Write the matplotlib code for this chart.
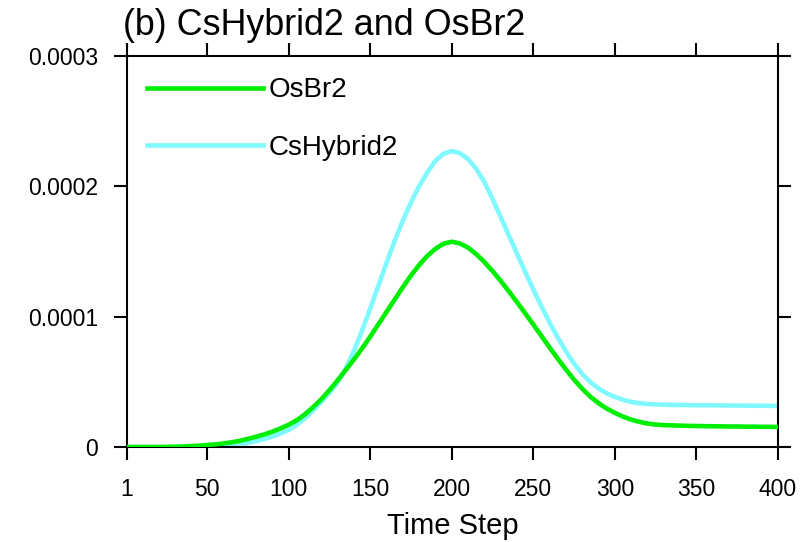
import numpy as np
import matplotlib
matplotlib.use("Agg")
import matplotlib.pyplot as plt

plt.rcParams['font.family'] = ['Liberation Sans', 'DejaVu Sans']

# time steps sampled every 5 steps
steps = [1] + list(range(5, 401, 5))

# RMSE values in units of 1e-5
osbr2 = [0, 0, 0, 0, 0, 0.01, 0.02, 0.04, 0.07, 0.1, 0.15, 0.2, 0.27, 0.36,
         0.47, 0.62, 0.78, 0.96, 1.17, 1.42, 1.7, 2.05, 2.5, 3.05, 3.65, 4.35,
         5.1, 5.9, 6.7, 7.55, 8.45, 9.4, 10.35, 11.3, 12.25, 13.15, 13.95,
         14.65, 15.2, 15.6, 15.75, 15.62, 15.3, 14.8, 14.2, 13.5, 12.75, 11.95,
         11.12, 10.27, 9.4, 8.52, 7.64, 6.78, 5.95, 5.17, 4.47, 3.86, 3.36,
         2.95, 2.62, 2.33, 2.1, 1.93, 1.8, 1.72, 1.68, 1.66, 1.64, 1.62, 1.61,
         1.6, 1.59, 1.58, 1.57, 1.57, 1.56, 1.56, 1.55, 1.55, 1.54]
cshybrid2 = [0, 0, 0, 0, 0, 0, 0, 0.005, 0.01, 0.02, 0.03, 0.05, 0.08, 0.13,
             0.2, 0.31, 0.45, 0.61, 0.8, 1.03, 1.3, 1.7, 2.2, 2.8, 3.45, 4.15,
             4.95, 6.0, 7.35, 8.9, 10.6, 12.35, 14.1, 15.8, 17.35, 18.75, 20.0,
             21.05, 21.95, 22.5, 22.7, 22.55, 22.1, 21.35, 20.35, 19.05, 17.65,
             16.25, 14.85, 13.45, 12.1, 10.8, 9.55, 8.4, 7.35, 6.4, 5.6, 4.98,
             4.5, 4.12, 3.85, 3.62, 3.46, 3.36, 3.3, 3.27, 3.25, 3.23, 3.22,
             3.21, 3.2, 3.2, 3.2, 3.19, 3.18, 3.18, 3.17, 3.17, 3.16, 3.16, 3.15]

xticks = [1, 50, 100, 150, 200, 250, 300, 350, 400]
yticks = [0, 0.0001, 0.0002, 0.0003]
ytick_labels = ['0', '0.0001', '0.0002', '0.0003']

fig = plt.figure(figsize=(8.02, 5.42), dpi=100)
ax = fig.add_axes([0.1584, 0.1753, 0.8116, 0.7214])

ax.plot(steps, np.array(osbr2) * 1e-5, color='#00ee00', lw=3.3, label='OsBr2',
        zorder=3, solid_joinstyle='round')
ax.plot(steps, np.array(cshybrid2) * 1e-5, color='#80f8ff', lw=3.3, label='CsHybrid2',
        zorder=2, solid_joinstyle='round')

ax.set_xlim(1, 400)
ax.set_ylim(0, 0.0003)
ax.set_xticks(xticks)
ax.set_xticklabels([str(t) for t in xticks])
ax.set_yticks(yticks)
ax.set_yticklabels(ytick_labels)
ax.tick_params(direction='out', length=9.5, width=1.5, labelsize=16.5, pad=11.5,
               top=True, right=True)
ax.tick_params(axis='x', pad=13)

for s in ax.spines.values():
    s.set_linewidth(1.5)

ax.set_xlabel('Time Step', fontsize=21, labelpad=8)
ax.set_ylabel('RMSE', fontsize=20)
ax.yaxis.set_label_coords(-0.205, 0.5)

fig.text(0.153, 0.935, '(b) CsHybrid2 and OsBr2', fontsize=25.8, ha='left', va='baseline')

ax.legend(loc='upper left', bbox_to_anchor=(0.03, 0.945), frameon=False,
          fontsize=20, handlelength=4.2, handletextpad=0.2, labelspacing=1.13,
          borderpad=0, borderaxespad=0)

fig.savefig('out.png', dpi=100)
